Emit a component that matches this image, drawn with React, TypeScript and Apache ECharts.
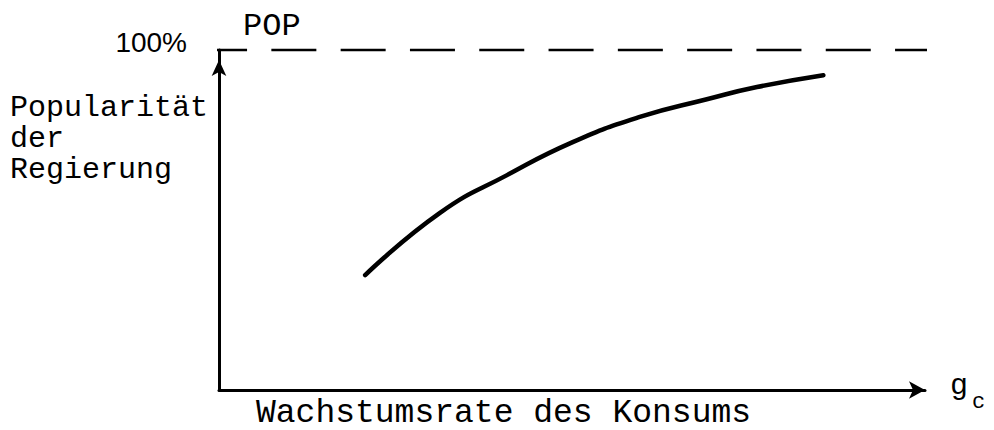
import React, { useEffect, useRef } from "react";
import * as echarts from "echarts";

// Hand-drawn curve: growth rate of consumption (x, 0..100) vs. government popularity (y, %)
const consumptionGrowth = [20.7, 31.3, 40.8, 50.1, 59.6, 69.1, 76.2, 85.6];
const popularity = [33.8, 52.1, 63.2, 72.9, 80.3, 85.5, 89.1, 92.6];

// Dashed 100% reference line (runs slightly past both axis ends)
const refLineX = [-2.4, 102.1];
const refLineY = [100, 100];

const yLabelLines = ["Popularität", "der", "Regierung"];
const xAxisTitle = "Wachstumsrate des Konsums";
const topLabel = "100%";
const popLabel = "POP";
const xSymbol = "g";
const xSymbolSub = "c";

const MONO = "'Liberation Mono', 'DejaVu Sans Mono', monospace";
const SANS = "'Liberation Sans', Arial, sans-serif";
const INK = "#000";

export default function App() {
  const ref = useRef<HTMLDivElement>(null);

  useEffect(() => {
    if (!ref.current) return;
    const chart = echarts.init(ref.current, undefined, { renderer: "svg" });

    const curve = consumptionGrowth.map((x, i) => [x, popularity[i]]);
    const refLine = refLineX.map((x, i) => [x, refLineY[i]]);

    const text = (
      t: string,
      x: number,
      y: number,
      font: string,
      align: string = "left"
    ) => ({
      type: "text",
      x,
      y,
      silent: true,
      style: { text: t, font, fill: INK, align, verticalAlign: "middle" },
    });

    chart.setOption({
      animation: false,
      backgroundColor: "#fff",
      grid: { left: 219, right: 69, top: 50, bottom: 40 },
      xAxis: {
        type: "value",
        min: 0,
        max: 100,
        axisLine: {
          show: true,
          onZero: true,
          symbol: ["none", "arrow"],
          symbolSize: [13, 16],
          lineStyle: { color: INK, width: 3 },
        },
        axisTick: { show: false },
        axisLabel: { show: false },
        splitLine: { show: false },
      },
      yAxis: {
        type: "value",
        min: 0,
        max: 100,
        axisLine: {
          show: true,
          onZero: true,
          symbol: ["none", "arrow"],
          symbolSize: [11, 16],
          symbolOffset: [0, -10],
          lineStyle: { color: INK, width: 3 },
        },
        axisTick: { show: false },
        axisLabel: { show: false },
        splitLine: { show: false },
      },
      series: [
        {
          type: "line",
          data: refLine,
          clip: false,
          silent: true,
          symbol: "none",
          lineStyle: { color: INK, width: 2.5, type: [45, 24.3] },
        },
        {
          type: "line",
          data: curve,
          smooth: 0.5,
          silent: true,
          symbol: "none",
          lineStyle: { color: INK, width: 4.5, cap: "round" },
        },
      ],
      graphic: [
        ...yLabelLines.map((t, i) => text(t, 10, 108 + i * 31, `30px ${MONO}`)),
        text(topLabel, 187, 42, `28px ${SANS}`, "right"),
        text(popLabel, 243, 26.5, `32px ${MONO}`),
        text(xAxisTitle, 256, 413, `33px ${MONO}`),
        text(xSymbol, 950, 386, `30px ${MONO}`),
        text(xSymbolSub, 972, 402, `22px ${MONO}`),
      ],
    });

    return () => chart.dispose();
  }, []);

  return (
    <div
      ref={ref}
      style={{ position: "fixed", left: 0, top: 0, width: 994, height: 430 }}
    />
  );
}
